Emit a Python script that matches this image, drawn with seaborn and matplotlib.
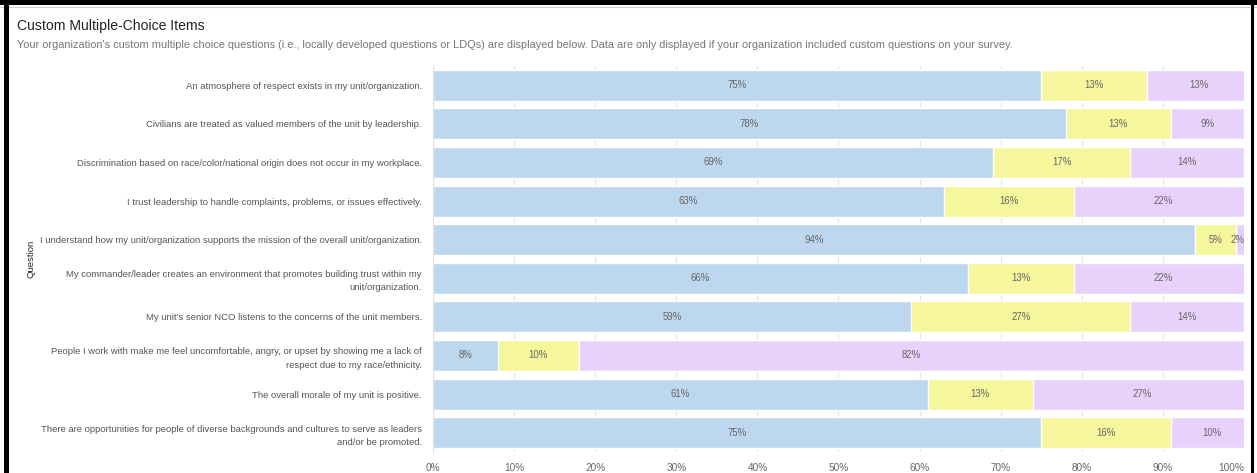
import matplotlib
matplotlib.use("Agg")
import matplotlib.pyplot as plt
from matplotlib.lines import Line2D
import numpy as np
import pandas as pd
import seaborn as sns

questions = [
    "An atmosphere of respect exists in my unit/organization.",
    "Civilians are treated as valued members of the unit by leadership.",
    "Discrimination based on race/color/national origin does not occur in my workplace.",
    "I trust leadership to handle complaints, problems, or issues effectively.",
    "I understand how my unit/organization supports the mission of the overall unit/organization.",
    "My commander/leader creates an environment that promotes building trust within my\nunit/organization.",
    "My unit's senior NCO listens to the concerns of the unit members.",
    "People I work with make me feel uncomfortable, angry, or upset by showing me a lack of\nrespect due to my race/ethnicity.",
    "The overall morale of my unit is positive.",
    "There are opportunities for people of diverse backgrounds and cultures to serve as leaders\nand/or be promoted.",
]
agree = [75, 78, 69, 63, 94, 66, 59, 8, 61, 75]
neutral = [13, 13, 17, 16, 5, 13, 27, 10, 13, 16]
disagree = [13, 9, 14, 22, 2, 22, 14, 82, 27, 10]
x_ticks = [0, 10, 20, 30, 40, 50, 60, 70, 80, 90, 100]

title = "Custom Multiple-Choice Items"
subtitle = ("Your organization's custom multiple choice questions (i.e., locally developed questions or LDQs) "
            "are displayed below. Data are only displayed if your organization included custom questions on your survey.")

colors = {"agree": "#bdd7ee", "neutral": "#f6f69c", "disagree": "#e8d1fb"}

sns.set_theme(style="white")
plt.rcParams["font.family"] = ["Liberation Sans", "DejaVu Sans"]

df = pd.DataFrame({"question": questions, "agree": agree, "neutral": neutral, "disagree": disagree})
df["cum_neutral"] = df["agree"] + df["neutral"]
df["cum_total"] = df["cum_neutral"] + df["disagree"]

fig = plt.figure(figsize=(12.57, 4.73), dpi=100)
ax = fig.add_axes([433 / 1257, 1 - 452 / 473, (1244 - 433) / 1257, (452 - 66) / 473])

# stacked layers: draw the full total first, then overlay the cumulative parts
for col, key in [("cum_total", "disagree"), ("cum_neutral", "neutral"), ("agree", "agree")]:
    sns.barplot(data=df, x=col, y="question", orient="h", color=colors[key],
                saturation=1, width=0.8, ax=ax, zorder=2)

# segment labels at each segment's centre
for i, row in df.iterrows():
    starts = [0, row["agree"], row["cum_neutral"]]
    vals = [row["agree"], row["neutral"], row["disagree"]]
    for s, v in zip(starts, vals):
        xc = s + v / 2
        if xc > 99.2:
            xc = 99.2
        ax.text(xc, i, f"{v}%", ha="center", va="center", fontsize=6.9, color="#666666", zorder=3)

ax.set_xlim(0, 100)
ax.set_ylim(len(questions) - 0.5, -0.5)
ax.set_xticks(x_ticks)
ax.set_xticklabels([f"{t}%" for t in x_ticks], fontsize=7.2, color="#666666")
ax.get_xticklabels()[-1].set_horizontalalignment("right")
ax.tick_params(axis="x", length=0, pad=8)
ax.tick_params(axis="y", length=0, pad=8)
ax.set_yticks(range(len(questions)))
ax.set_yticklabels(questions, fontsize=6.8, color="#555555", ha="right", linespacing=1.6)
ax.grid(axis="x", color="#e4e4e4", linewidth=0.8, zorder=0)
ax.set_axisbelow(True)
for s in ["top", "right", "bottom"]:
    ax.spines[s].set_visible(False)
ax.spines["left"].set_color("#e0e0e0")
ax.spines["left"].set_linewidth(0.8)
ax.set_xlabel("")
ax.set_ylabel("Question", fontsize=6.8, color="#222222", labelpad=0)
ax.yaxis.set_label_coords(-0.490, 0.5)

fig.text(17 / 1257, 1 - 26 / 473, title, fontsize=10.1, color="#222222", va="center", ha="left")
fig.text(17 / 1257, 1 - 45 / 473, subtitle, fontsize=7.9, color="#777777", va="center", ha="left")

# page frame
fig.add_artist(Line2D([0, 1], [1 - 2.5 / 473] * 2, color="black", linewidth=3.6, transform=fig.transFigure))
fig.add_artist(Line2D([0, 1], [1 - 7.5 / 473] * 2, color="#cfcfcf", linewidth=0.8, transform=fig.transFigure))
fig.add_artist(Line2D([5.5 / 1257] * 2, [0, 1], color="black", linewidth=3.6, transform=fig.transFigure))
fig.add_artist(Line2D([1251.5 / 1257] * 2, [0, 1], color="black", linewidth=2.2, transform=fig.transFigure))

fig.savefig("out.png", dpi=100, facecolor="white")
